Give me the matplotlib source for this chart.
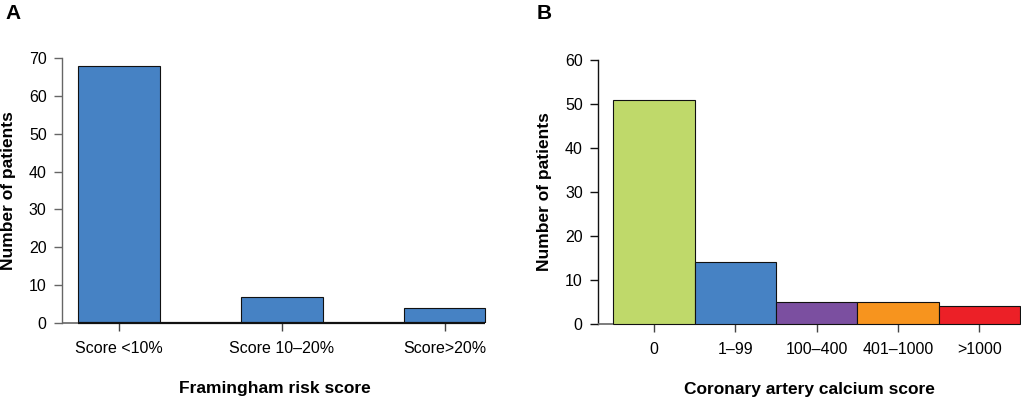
import matplotlib
matplotlib.use("Agg")
import matplotlib.pyplot as plt

plt.rcParams["font.family"] = ["Liberation Sans", "DejaVu Sans"]

# Panel A - Framingham risk score
fram_labels = ["Score <10%", "Score 10\u201320%", "Score>20%"]
fram_counts = [68, 7, 4]

# Panel B - coronary artery calcium score
cac_labels = ["0", "1\u201399", "100\u2013400", "401\u20131000", ">1000"]
cac_counts = [51, 14, 5, 5, 4]
cac_colors = ["#BFD96A", "#4682C4", "#7B4FA0", "#F7941E", "#EC2027"]

BLUE = "#4682C4"


def style_axis(ax, spine_color):
    for s in ["top", "right", "bottom"]:
        ax.spines[s].set_visible(False)
    ax.spines["left"].set_color(spine_color)
    ax.spines["left"].set_linewidth(1.0)
    ax.tick_params(axis="y", length=6, width=1.0, color=spine_color,
                   labelsize=11.5, pad=5)
    ax.tick_params(axis="x", length=6, width=1.0, color="#444444",
                   labelsize=11.5, pad=7)


fig = plt.figure(figsize=(10.21, 3.98), dpi=100)

# ---- Panel A ----
axA = fig.add_axes([0.0607, 0.1884, 0.4163, 0.6658])
xa = [2 * i for i in range(len(fram_counts))]
axA.bar(xa, fram_counts, width=1.0, color=BLUE, edgecolor="#111111",
        linewidth=0.8, zorder=2)
axA.hlines(0, xa[0] - 0.5, xa[-1] + 0.5, color="#111111", linewidth=1.6,
           zorder=3, clip_on=False)
axA.hlines(0, -0.7, xa[0] - 0.5, color="#666666", linewidth=1.2,
           zorder=3, clip_on=False)
axA.set_xlim(-0.7, 4.52)
axA.set_ylim(0, 70)
axA.set_yticks(range(0, 71, 10))
axA.set_xticks(xa)
axA.set_xticklabels(fram_labels)
style_axis(axA, "#666666")
axA.set_ylabel("Number of patients", fontsize=12.5, fontweight="bold",
               labelpad=9)
axA.set_xlabel("Framingham risk score", fontsize=12.5, fontweight="bold",
               labelpad=18)

# ---- Panel B ----
axB = fig.add_axes([0.5857, 0.186, 0.4133, 0.6633])
xb = list(range(len(cac_counts)))
axB.bar(xb, cac_counts, width=1.0, color=cac_colors, edgecolor="#111111",
        linewidth=0.8, zorder=2, clip_on=False)
axB.hlines(0, -0.69, xb[0] - 0.5, color="#666666", linewidth=1.2,
           zorder=3, clip_on=False)
axB.set_xlim(-0.69, 4.5)
axB.set_ylim(0, 60)
axB.set_yticks(range(0, 61, 10))
axB.set_xticks(xb)
axB.set_xticklabels(cac_labels)
style_axis(axB, "#111111")
axB.set_ylabel("Number of patients", fontsize=12.5, fontweight="bold",
               labelpad=9)
axB.set_xlabel("Coronary artery calcium score", fontsize=12.5,
               fontweight="bold", labelpad=18)

fig.text(0.005, 0.99, "A", fontsize=15, fontweight="bold", va="top")
fig.text(0.526, 0.99, "B", fontsize=15, fontweight="bold", va="top")

fig.savefig("out.png", dpi=100, facecolor="white")
